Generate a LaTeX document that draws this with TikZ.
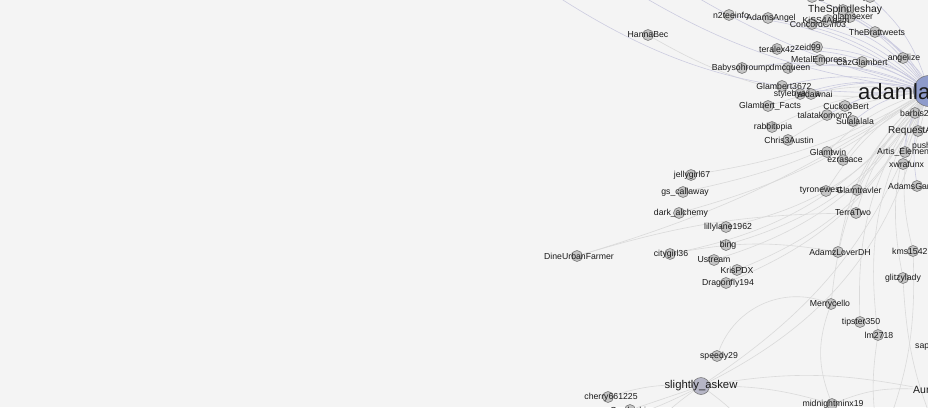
\documentclass[tikz,border=0pt]{standalone}
\usepackage{fontspec}
\setmainfont{Liberation Sans}
\usetikzlibrary{calc}
\pgfdeclarelayer{edgelayer}
\pgfsetlayers{edgelayer,main}
\definecolor{bgc}{HTML}{F4F4F4}
\definecolor{edgec}{HTML}{DADADA}
\definecolor{hubedge}{HTML}{CCCCE0}
\definecolor{dotfill}{HTML}{C4C4C4}
\definecolor{dotdraw}{HTML}{707070}
\definecolor{hubfill}{HTML}{8E9BCB}
\definecolor{sakfill}{HTML}{B6B6C6}
\definecolor{txt}{HTML}{1A1A1A}
\tikzset{
  dot/.style={circle,draw=dotdraw,fill=dotfill,line width=0.55pt,minimum size=11pt,inner sep=0pt},
  lbl/.style={inner sep=0pt,font=\fontsize{8.7}{9}\selectfont,text=txt},
  edge/.style={draw=edgec,line width=0.6pt},
  hedge/.style={draw=hubedge,line width=0.6pt},
}
\newcommand\vtx[5]{\node[dot] (#1) at (#2,#3) {}; \node[lbl] (#1-l) at (#5,#3) {#4};}
\newcommand\vtw[5]{\node[dot] (#1) at (#2,#3) {}; \node[lbl,anchor=west] (#1-l) at (#5,#3) {#4};}
\begin{document}
\begin{tikzpicture}[x=1pt,y=-1pt]
\useasboundingbox (0,0) rectangle (928,407);
\clip (0,0) rectangle (928,407);
\begin{pgfonlayer}{edgelayer}
\fill[bgc] (0,0) rectangle (928,407);
\end{pgfonlayer}

% hub
\node[circle,draw=dotdraw,fill=hubfill,line width=0.5pt,minimum size=31pt,inner sep=0pt] (hub) at (929,91) {};
\node[inner sep=0pt,anchor=base west,font=\fontsize{22}{24}\selectfont,text=txt] (hub-l) at (858,99) {adamlambert};

% vertices
\vtx{rossbee}{812}{-3}{Ross\_bee}{819}
\vtx{queen}{870}{-3}{QueenofZinda}{887}
\vtx{ntee}{729}{15}{n2teeinfo}{731}
\vtx{adamsangel}{768}{18}{AdamsAngel}{771}
\node[dot] (spindle) at (843,10) {};
\node[lbl,font=\fontsize{10.3}{11}\selectfont] (spindle-l) at (845,10) {TheSpindleshay};
\vtx{sexer}{850}{17}{glamsexer}{853}
\vtx{concord}{812}{24}{ConcordGirl03}{818}
\vtx{kiss}{828}{20}{KiSS4Adam}{826}
\vtx{brat}{875}{32}{TheBrattweets}{877}
\vtx{teralex}{777}{49}{teralex42}{777}
\vtx{zeid}{817}{47}{zeid99}{808}
\vtx{metal}{820}{60}{MetalEmpress}{819}
\vtx{caz}{862}{62}{CazGlambert}{862}
\vtx{angel}{903}{58}{angelize}{904}
\vtx{hanna}{648}{35}{HannaBec}{648}
\vtx{baby}{742}{68}{Babysohroump}{741}
\vtx{dmc}{788}{68}{dmcqueen}{790}
\vtx{gbt}{782}{86}{Glambert3672}{784}
\vtx{styleA}{800}{94}{stylebyanna}{797}
\vtx{styleB}{811}{94}{ardawnai}{815}
\vtx{gfacts}{768}{106}{Glambert\_Facts}{770}
\vtx{cuckoo}{845}{106}{CuckooBert}{846}
\vtx{talata}{827}{115}{talatakomom2}{825}
\vtx{sula}{853}{121}{Sulalalala}{855}
\vtw{barbis}{915}{113}{barbis2000}{900}
\vtx{rabbit}{772}{127}{rabbitopia}{773}
\vtx{chris}{788}{140}{Chris3Austin}{789}
\node[dot] (request) at (918,131) {};
\node[lbl,anchor=west,font=\fontsize{10}{11}\selectfont] (request-l) at (888,131) {RequestAdam};
\node[lbl,anchor=west] (pus) at (912,146) {pushplay};
\vtx{glamtwin}{827}{152}{Glamtwin}{828}
\vtx{ezra}{843}{160}{ezrasace}{845}
\vtw{artis}{905}{152}{Artis\_Elements}{877}
\vtw{xwra}{903}{164}{xwrafunx}{889}
\vtx{tyrone}{826}{191}{tyronewest}{821}
\vtx{glamtrav}{857}{190}{Glamtravler}{859}
\vtw{adamsga}{917}{186}{AdamsGarden}{888}
\vtx{terra}{856}{213}{TerraTwo}{853}
\vtx{jelly}{691}{175}{jellygirl67}{692}
\vtx{gs}{683}{192}{gs\_callaway}{685}
\vtx{dark}{679}{213}{dark\_alchemy}{681}
\vtx{lilly}{726}{227}{lillylane1962}{728}
\vtx{bing}{726}{245}{bing}{728}
\vtx{city}{670}{254}{citygirl36}{671}
\vtx{ustream}{714}{260}{Ustream}{714}
\vtx{kris}{737}{270}{KrisPDX}{737}
\vtx{dragon}{726}{283}{Dragonfly194}{728}
\vtx{dine}{577}{256}{DineUrbanFarmer}{579}
\vtx{lover}{838}{252}{AdamzLoverDH}{840}
\vtw{kms}{913}{251}{kms1542}{892}
\vtx{glitzy}{903}{278}{glitzylady}{903}
\vtx{merry}{831}{304}{Merrycello}{830}
\vtx{tipster}{860}{322}{tipster350}{861}
\vtx{lm}{878}{335}{lm2718}{879}
\node[lbl,anchor=west] (sap) at (915,346) {sapphire};
\vtx{speedy}{717}{356}{speedy29}{719}
\node[circle,draw=dotdraw,fill=sakfill,line width=0.5pt,minimum size=17pt,inner sep=0pt] (sak) at (701,386) {};
\node[lbl,font=\fontsize{11.3}{12}\selectfont] (sak-l) at (701,386) {slightly\_askew};
\node[lbl,anchor=west,font=\fontsize{10.5}{11}\selectfont] (aur) at (913,390) {Aurora};
\vtx{midnight}{832}{404}{midnightminx19}{833}
\vtx{cherry}{608}{397}{cherry661225}{611}
\vtx{garden}{630}{410}{Gardenhire}{632}

% off-canvas ends
\coordinate (o1) at (560,430);
\coordinate (o2) at (640,445);
\coordinate (o3) at (760,445);
\coordinate (o4) at (880,445);
\coordinate (o5) at (600,-30);
\coordinate (o6) at (660,-25);
\coordinate (o7) at (540,-15);
\coordinate (o8) at (940,440);

\begin{pgfonlayer}{edgelayer}
% upper group: close to hub, lavender
\foreach \n in {rossbee,queen,ntee,adamsangel,spindle,sexer,concord,kiss,brat,teralex,zeid,metal,caz,angel,baby,dmc,gbt,styleA,styleB,cuckoo,talata,sula,barbis,request,artis,xwra,adamsga}
  \draw[hedge] (\n) to[bend left=14] (hub);
% middle group
\foreach \n in {gfacts,rabbit,chris,glamtwin,ezra,tyrone,glamtrav,terra}
  \draw[edge] (\n) to[bend left=12] (hub);
% far left group: arcs passing below, rising to the hub
\foreach \n in {jelly,gs,dark}
  \draw[edge] (\n) to[bend right=10] (hub);
\foreach \n in {lilly,bing,city,ustream,kris,dragon}
  \draw[edge] (\n) to[bend right=20] (hub);
% lower right group
\foreach \n in {lover,kms,glitzy,merry,tipster,lm}
  \draw[edge] (\n) to[bend left=18] (hub);
\draw[edge] (dine) to[bend right=8] (hub);
\draw[edge] (hanna) to[bend right=18] (hub);
\draw[hedge] (o5) to[bend right=12] (hub);
\draw[hedge] (o6) to[bend right=8] (hub);
\draw[hedge] (o7) to[bend right=18] (hub);
\draw[edge] (sak) to[bend right=25] (hub);
\draw[edge] (sak) to[bend right=18] (hub);
\draw[edge] (speedy) to[bend left=45] (merry);
\draw[edge] (merry) to[bend right=20] (midnight);
\draw[edge] (sak) to[bend left=10] (aur);
\draw[edge] (sak) to[bend left=8] (midnight);
\draw[edge] (sak) to[bend right=10] (cherry);
\draw[edge] (sak) -- (garden);
\draw[edge] (sak) to[bend left=10] (o1);
\draw[edge] (sak) to[bend right=10] (o2);
\draw[edge] (sak) to[bend left=10] (o3);
\draw[edge] (lm) to[bend right=10] (o4);
\draw[edge] (kms) to[bend left=12] (o4);
\draw[edge] (glitzy) to[bend right=10] (o8);
\draw[edge] (midnight) to[bend left=12] (aur);
\draw[edge] (dine) to[bend left=8] (terra);
\draw[edge] (city) to[bend left=10] (lover);
\end{pgfonlayer}
\end{tikzpicture}
\end{document}
